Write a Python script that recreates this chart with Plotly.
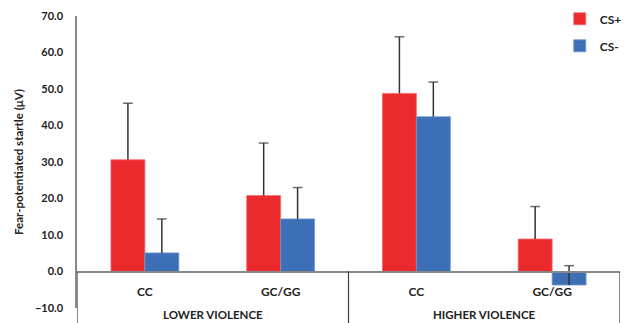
import plotly.graph_objects as go

groups = ["LOWER VIOLENCE", "HIGHER VIOLENCE"]
genotypes = ["CC", "GC/GG", "CC", "GC/GG"]
cs_plus = [30.6, 20.8, 48.8, 8.9]
cs_plus_err = [15.5, 14.4, 15.5, 8.9]
cs_minus = [5.1, 14.4, 42.4, -3.7]
cs_minus_err = [9.3, 8.6, 9.5, 5.3]
y_ticks = [-10, 0, 10, 20, 30, 40, 50, 60, 70]
y_range = [-10, 70]

RED = "#EB2A2E"
BLUE = "#3D6FB7"
FONT = "Lato"
TXT = "#222222"
ERR = "#333333"

# unique category ids; ticks show only genotype
cats = [f"{groups[i // 2]}|{g}" for i, g in enumerate(genotypes)]

fig = go.Figure()
fig.add_trace(go.Bar(
    name="CS+", x=cats, y=cs_plus, marker_color=RED,
    marker_line=dict(color="#F26B6E", width=0.8), legendgroup="a", offsetgroup="a",
))
fig.add_trace(go.Bar(
    name="CS-", x=cats, y=cs_minus, marker_color=BLUE,
    marker_line=dict(color="#6F95CC", width=0.8), legendgroup="b", offsetgroup="b",
))


def err_trace(vals, errs, grp):
    xs, ys, sizes = [], [], []
    for c, v, e in zip(cats, vals, errs):
        xs += [c, c, None]
        ys += [v, v + e, None]
        sizes += [0, 7, 0]
    return go.Scatter(x=xs, y=ys, mode="lines+markers", offsetgroup=grp,
                      line=dict(color=ERR, width=1.5), connectgaps=False,
                      marker=dict(symbol="line-ew", size=sizes,
                                  line=dict(color=ERR, width=1.5)),
                      showlegend=False, hoverinfo="skip")


fig.add_trace(err_trace(cs_plus, cs_plus_err, "a"))
fig.add_trace(err_trace(cs_minus, cs_minus_err, "b"))

zero_frac = (0 - y_range[0]) / (y_range[1] - y_range[0])

for gi, g in enumerate(groups):
    fig.add_annotation(x=gi * 2 + 0.5, xref="x", y=-0.022, yref="paper",
                       text=g, showarrow=False, yanchor="middle",
                       font=dict(family=FONT, size=11.5, color=TXT, weight="bold"))
for xv in [-0.5, 1.5, 3.5]:
    fig.add_shape(type="line", xref="x", yref="paper", x0=xv, x1=xv,
                  y0=zero_frac, y1=-0.06, line=dict(color="#404040", width=1.2))

fig.update_layout(
    width=630, height=323,
    margin=dict(l=77, r=10, t=16, b=15, autoexpand=False),
    paper_bgcolor="white", plot_bgcolor="white",
    barmode="group", bargap=0.5, bargroupgap=0,
    scattermode="group", scattergap=0.5,
    font=dict(family=FONT, size=11, color=TXT),
    showlegend=True,
    legend=dict(x=0.889, xanchor="left", y=1.04, yanchor="top",
                font=dict(family=FONT, size=12, color=TXT, weight="bold"),
                tracegroupgap=8, bgcolor="rgba(0,0,0,0)"),
)
fig.update_xaxes(
    type="category", range=[-0.5, 3.5], anchor="free", position=zero_frac,
    tickvals=cats, ticktext=genotypes,
    showline=True, linecolor="#888888", linewidth=1.5,
    ticks="outside", ticklen=9, tickcolor="rgba(0,0,0,0)",
    tickfont=dict(family=FONT, size=12, color=TXT, weight="bold"),
    showgrid=False, automargin=False, layer="above traces",
)
fig.update_yaxes(
    range=y_range, tickvals=y_ticks, tickformat=".1f",
    showline=True, linecolor="#888888", linewidth=1.5,
    showgrid=False, zeroline=False, ticks="",
    ticklabelstandoff=10,
    tickfont=dict(family=FONT, size=11, color=TXT, weight="bold"),
    title=dict(text="Fear-potentiated startle (μV)", standoff=9,
               font=dict(family=FONT, size=11.5, color=TXT, weight="bold")),
    automargin=False,
)

fig.write_html("out.html", config={"displayModeBar": False},
               post_script="document.body.style.margin='0';document.body.style.overflow='hidden';")
